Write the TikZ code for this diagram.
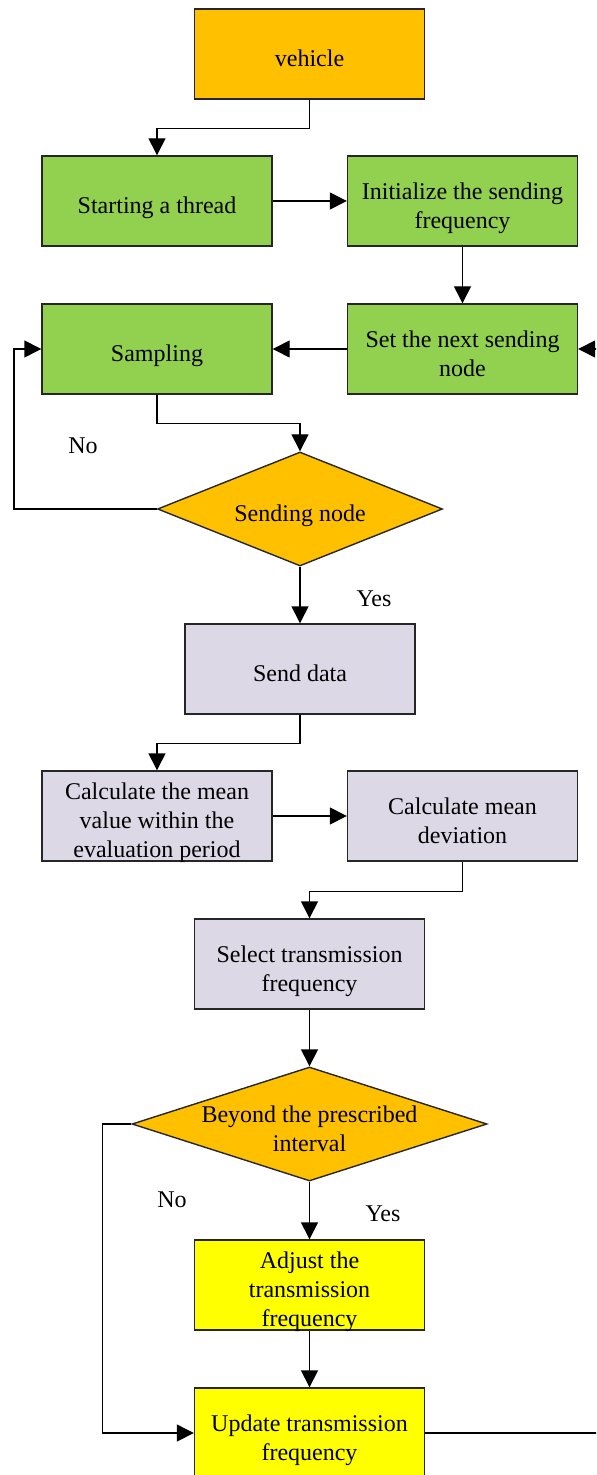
\documentclass[tikz,border=0pt]{standalone}
\usepackage{fontspec}
\setmainfont{Liberation Serif}
\usetikzlibrary{shapes.geometric,arrows.meta}
\definecolor{boxorange}{HTML}{FFC000}
\definecolor{boxgreen}{HTML}{92D050}
\definecolor{boxlilac}{HTML}{DCD8E6}
\definecolor{boxyellow}{HTML}{FFFF00}
% text sits a little below the middle of each box, as in the drawing
\newcommand{\lowtext}[1]{\raisebox{-6.5pt}[0pt][0pt]{\begin{tabular}{@{}c@{}}#1\end{tabular}}}
\begin{document}
\begin{tikzpicture}[x=0.5pt,y=-0.5pt,
  every node/.style={font=\fontsize{12}{14.5}\selectfont},
  stepbox/.style={draw=black!85,line width=0.7pt,rectangle,minimum width=115pt,minimum height=45pt,inner sep=1pt},
  choice/.style={draw=black!85,line width=0.7pt,diamond,inner sep=1pt,minimum height=57pt},
  arr/.style={line width=0.7pt,-{Triangle[length=8.5pt,width=8.5pt]}}]
\path[use as bounding box,clip] (0,0) rectangle (596,1475);
\node[stepbox,fill=boxorange] at (309.5,54) (vehicle) {\lowtext{vehicle}};
\node[stepbox,fill=boxgreen] at (157,201) (thread) {\lowtext{Starting a thread}};
\node[stepbox,fill=boxgreen] at (462.5,201) (init) {\lowtext{Initialize the sending\\frequency}};
\node[stepbox,fill=boxgreen] at (157,349) (sampling) {\lowtext{Sampling}};
\node[stepbox,fill=boxgreen] at (462.5,349) (setnext) {\lowtext{Set the next sending\\node}};
\node[choice,fill=boxorange,aspect=2.5,minimum width=142.5pt] at (300,509) (sendnode) {\lowtext{Sending node}};
\node[stepbox,fill=boxlilac] at (300,669) (senddata) {\lowtext{Send data}};
\node[stepbox,fill=boxlilac] at (157,816) (calcmean) {\lowtext{Calculate the mean\\value within the\\evaluation period}};
\node[stepbox,fill=boxlilac] at (462.5,816) (calcdev) {\lowtext{Calculate mean\\deviation}};
\node[stepbox,fill=boxlilac] at (309.5,964) (select) {\lowtext{Select transmission\\frequency}};
\node[choice,fill=boxorange,aspect=3.11,minimum width=177.5pt] at (309.5,1124) (beyond) {\lowtext{Beyond the prescribed\\interval}};
\node[stepbox,fill=boxyellow] at (309.5,1285) (adjust) {\lowtext{Adjust the\\transmission\\frequency}};
\node[stepbox,fill=boxyellow] at (309.5,1433) (update) {\lowtext{Update transmission\\frequency}};

\node at (83,446) (no1) {No}; \node at (374,599) (yes1) {Yes};
\node at (172,1200) (no2) {No}; \node at (383,1214) (yes2) {Yes};

\coordinate (rtop) at (620,349);
\coordinate (rbot) at (620,1433);

\draw[arr] (vehicle.south) -- ++(0,29) -| (thread.north);
\draw[arr] (thread.east) -- (init.west);
\draw[arr] (init.south) -- (setnext.north);
\draw[arr] (setnext.west) -- (sampling.east);
\draw[arr] (update.east) -- (rbot) -- (rtop) -- (setnext.east);
\draw[arr] (sampling.south) -- ++(0,29) -| (sendnode.north);
\draw[arr] (sendnode.west) -- ++(-143,0) |- (sampling.west);
\draw[arr] (sendnode.south) -- (senddata.north);
\draw[arr] (senddata.south) -- ++(0,29) -| (calcmean.north);
\draw[arr] (calcmean.east) -- (calcdev.west);
\draw[arr] (calcdev.south) -- ++(0,30) -| (select.north);
\draw[arr] (select.south) -- (beyond.north);
\draw[arr] (beyond.west) -- ++(-29,0) |- (update.west);
\draw[arr] (beyond.south) -- (adjust.north);
\draw[arr] (adjust.south) -- (update.north);
\end{tikzpicture}
\end{document}
